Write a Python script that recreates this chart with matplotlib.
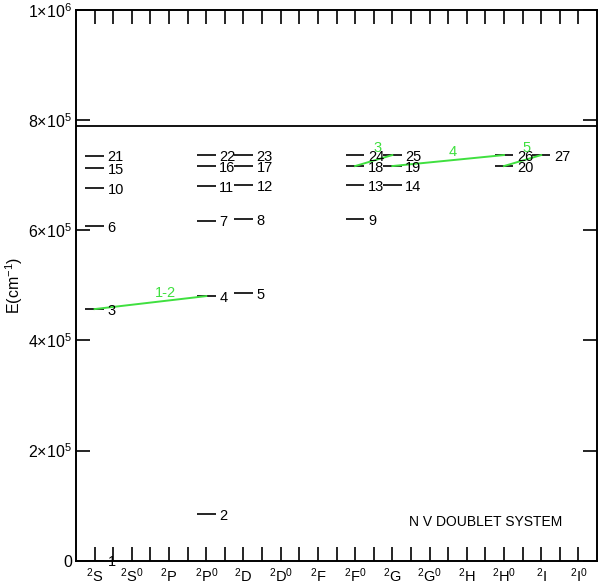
import matplotlib
matplotlib.use("Agg")
import matplotlib.pyplot as plt

plt.rcParams['font.family'] = ['Liberation Sans', 'DejaVu Sans']
plt.rcParams['mathtext.default'] = 'regular'

# Term columns (x positions) and tick labels
term_labels = ['$^{2}$S', '$^{2}$S$^{0}$', '$^{2}$P', '$^{2}$P$^{0}$', '$^{2}$D', '$^{2}$D$^{0}$',
               '$^{2}$F', '$^{2}$F$^{0}$', '$^{2}$G', '$^{2}$G$^{0}$', '$^{2}$H', '$^{2}$H$^{0}$',
               '$^{2}$I', '$^{2}$I$^{0}$']
term_pos = [1, 3, 5, 7, 9, 11, 13, 15, 17, 19, 21, 23, 25, 27]

# Levels: index, column x, energy (cm^-1)
level_ids = [1, 2, 3, 4, 5, 6, 7, 8, 9, 10, 11, 12, 13, 14, 15, 16, 17, 18, 19, 20,
             21, 22, 23, 24, 25, 26, 27]
level_x = [1, 7, 1, 7, 9, 1, 7, 9, 15, 1, 7, 9, 15, 17, 1, 7, 9, 15, 17, 23,
           1, 7, 9, 15, 17, 23, 25]
level_E = [0, 83900, 456900, 480500, 485400, 607600, 617300, 619700, 619700, 676100,
           680300, 682100, 682100, 682100, 712400, 716600, 716600, 716600, 716600, 716600,
           735300, 736000, 736600, 736600, 736600, 736600, 736600]

ion_limit = 790000

# Transitions (green): lower level id, upper level id, label, label x, label E
trans_lo = [3, 18, 19, 20]
trans_hi = [4, 25, 26, 27]
trans_lab = ['1-2', '3', '4', '5']
trans_lab_x = [4.8, 16.2, 20.25, 24.2]
trans_lab_E = [486500, 749300, 742600, 748800]

green = '#3fe03f'

fig = plt.figure(figsize=(6.0, 5.83), dpi=100)
ax = fig.add_axes([76/600, 22.3/583, 521/600, 550.7/583])

ax.set_xlim(0, 28)
ax.set_ylim(0, 1e6)

# ionization limit
ax.axhline(ion_limit, color='black', lw=1.3)

# levels
for lid, x, E in zip(level_ids, level_x, level_E):
    ax.plot([x - 0.5, x + 0.5], [E, E], color='black', lw=1.2, solid_capstyle='butt')
    ax.text(x + 0.7, E - 3000, str(lid), ha='left', va='center', fontsize=10.5,
            color='black', clip_on=False)

# transitions
lookup = {lid: (x, E) for lid, x, E in zip(level_ids, level_x, level_E)}
for lo, hi, lab, lx, lE in zip(trans_lo, trans_hi, trans_lab, trans_lab_x, trans_lab_E):
    x0, E0 = lookup[lo]
    x1, E1 = lookup[hi]
    ax.plot([x0, x1], [E0, E1], color=green, lw=1.4)
    ax.text(lx, lE, lab, color=green, ha='center', va='center', fontsize=10.5)

ax.text(22, 70000, 'N V DOUBLET SYSTEM', ha='center', va='center', fontsize=10)

# ticks
ax.set_xticks(range(1, 28))
ax.set_xticklabels([term_labels[term_pos.index(i)] if i in term_pos else '' for i in range(1, 28)],
                   fontsize=10.5)
ax.set_yticks([0, 2e5, 4e5, 6e5, 8e5, 1e6])
ax.set_yticklabels(['0', r'2$\times$10$^{5}$', r'4$\times$10$^{5}$', r'6$\times$10$^{5}$',
                    r'8$\times$10$^{5}$', r'1$\times$10$^{6}$'], fontsize=11.5)
ax.tick_params(axis='both', direction='in', length=10, width=1.2, top=True, right=True,
               pad=3)
ax.tick_params(axis='x', pad=4)
for s in ax.spines.values():
    s.set_linewidth(1.4)

ax.set_ylabel('E(cm$^{-1}$)', fontsize=11.5, labelpad=2)

fig.savefig('out.png', dpi=100)
